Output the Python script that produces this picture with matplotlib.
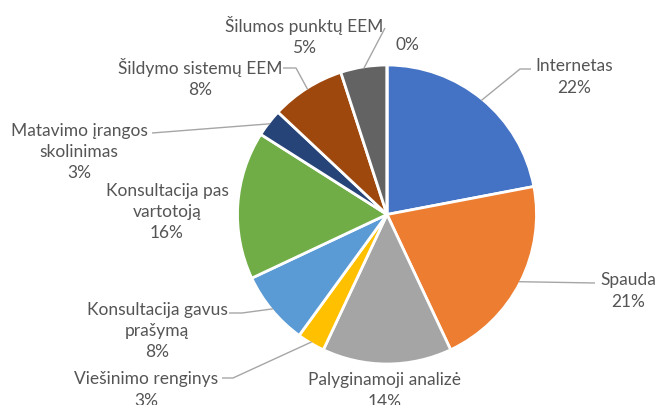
import numpy as np
import matplotlib
matplotlib.use("Agg")
import matplotlib.pyplot as plt

# ---- data ----
categories = ["Internetas", "Spauda", "Palyginamoji analizė", "Viešinimo renginys",
              "Konsultacija gavus\nprašymą", "Konsultacija pas\nvartotoją",
              "Matavimo įrangos\nskolinimas", "Šildymo sistemų EEM",
              "Šilumos punktų EEM", ""]
values = [22, 21, 14, 3, 8, 16, 3, 8, 5, 0]
colors = ["#4472C4", "#ED7D31", "#A5A5A5", "#FFC000", "#5B9BD5",
          "#70AD47", "#264478", "#9E480E", "#636363", "#997300"]

# ---- layout (image pixel coordinates, y measured downward) ----
W, H = 655, 405
CX, CY, R = 387, 214.5, 149.5
label_pos = [(574, 77), (628, 291), (385, 391), (146, 390), (157, 331),
             (167, 212), (79, 152), (200, 78), (304, 36), (407, 45)]
# leader line path after the start point on the pie edge (None = no leader)
leaders = [[(520, 69), (531, 69)],
           [(595, 283)],
           None,
           [(233, 378), (222, 378)],
           [(242, 313), (229, 313)],
           None,
           [(152, 133)],
           [(296, 68), (283, 68)],
           [(385, 28)],
           None]

TXT = "#555555"
LEAD = "#A6A6A6"
FONT = ["Lato", "DejaVu Sans"]


def Y(y):
    return H - y


fig = plt.figure(figsize=(W / 100, H / 100), dpi=100)
ax = fig.add_axes([0, 0, 1, 1])
wedges, _ = ax.pie(values, colors=colors, startangle=90, counterclock=False,
                   center=(CX, Y(CY)), radius=R, normalize=True,
                   wedgeprops=dict(edgecolor="white", linewidth=2.0))
ax.set_xlim(0, W)
ax.set_ylim(0, H)
ax.set_aspect("equal")
ax.axis("off")

total = float(sum(values))
cum = 0.0
for i, (name, v) in enumerate(zip(categories, values)):
    mid = (cum + v / 2.0) / total * 360.0  # clockwise from top
    cum += v
    pct = f"{v / total * 100:.0f}%"
    txt = f"{name}\n{pct}" if name else pct
    lx, ly = label_pos[i]
    ax.text(lx, Y(ly), txt, ha="center", va="center", color=TXT,
            fontsize=12.5, family=FONT, linespacing=1.4)
    if leaders[i] is not None:
        a = np.deg2rad(mid)
        sx = CX + R * 0.99 * np.sin(a)
        sy = CY - R * 0.99 * np.cos(a)
        pts = [(sx, sy)] + leaders[i]
        ax.plot([p[0] for p in pts], [Y(p[1]) for p in pts], color=LEAD,
                lw=1.0, solid_capstyle="butt")

fig.savefig("out.png", dpi=100)
